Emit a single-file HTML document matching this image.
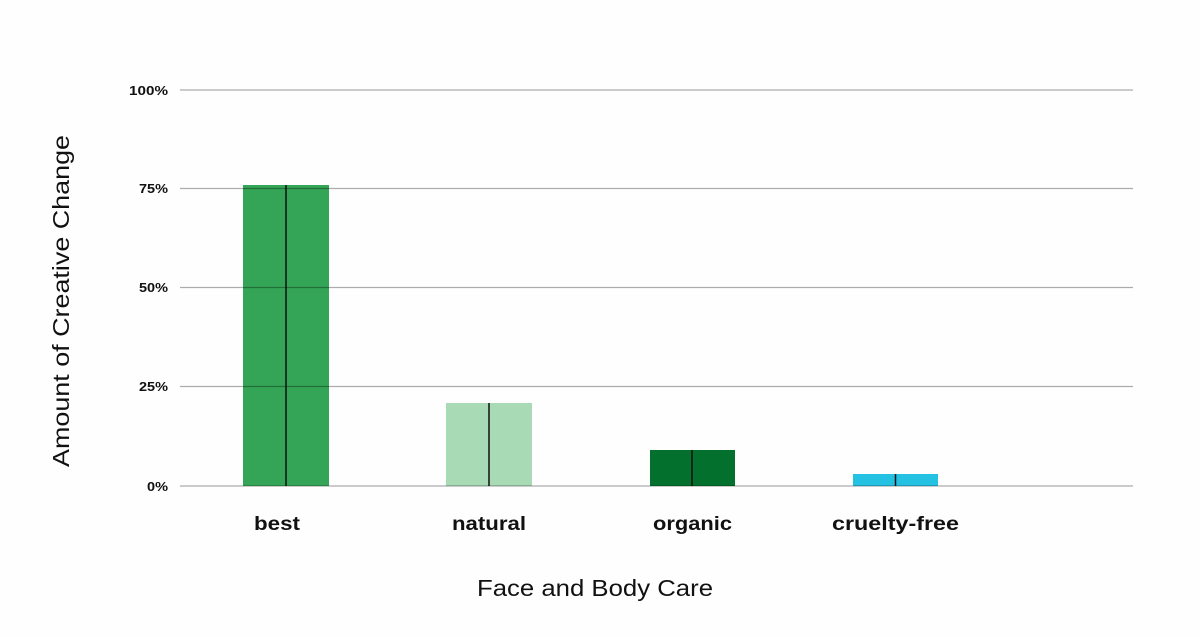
<!DOCTYPE html>
<html><head><style>body{margin:0;background:#fff}</style></head><body>
<svg width="1200" height="638" xmlns="http://www.w3.org/2000/svg" font-family="Liberation Sans, sans-serif">
<rect width="1200" height="638" fill="#fdfefd"/>
<rect x="243" y="185" width="86" height="301" fill="#34a456"/>
<rect x="446" y="403" width="86" height="83" fill="#a8dab5"/>
<rect x="650" y="450" width="85" height="36" fill="#03702e"/>
<rect x="853" y="474" width="85" height="12" fill="#25c1e3"/>
<g stroke="#111" stroke-width="1.5">
<line x1="286" y1="185" x2="286" y2="486"/>
<line x1="489" y1="403" x2="489" y2="486"/>
<line x1="692" y1="450" x2="692" y2="486"/>
<line x1="895.5" y1="474" x2="895.5" y2="486"/>
</g>
<g stroke="#000" stroke-opacity="0.32" stroke-width="1.2">
<line x1="180" y1="90" x2="1133" y2="90"/>
<line x1="180" y1="188.5" x2="1133" y2="188.5"/>
<line x1="180" y1="287.5" x2="1133" y2="287.5"/>
<line x1="180" y1="386.5" x2="1133" y2="386.5"/>
<line x1="180" y1="486" x2="1133" y2="486"/>
</g>
<g font-size="13" font-weight="bold" fill="#111" lengthAdjust="spacingAndGlyphs">
<text x="129" y="95" textLength="39" lengthAdjust="spacingAndGlyphs">100%</text>
<text x="139" y="193" textLength="29" lengthAdjust="spacingAndGlyphs">75%</text>
<text x="139" y="292" textLength="29" lengthAdjust="spacingAndGlyphs">50%</text>
<text x="139" y="391" textLength="29" lengthAdjust="spacingAndGlyphs">25%</text>
<text x="147" y="491" textLength="21" lengthAdjust="spacingAndGlyphs">0%</text>
</g>
<g font-size="19" font-weight="bold" fill="#111">
<text x="254" y="530" textLength="46" lengthAdjust="spacingAndGlyphs">best</text>
<text x="452" y="530" textLength="74" lengthAdjust="spacingAndGlyphs">natural</text>
<text x="653" y="530" textLength="79" lengthAdjust="spacingAndGlyphs">organic</text>
<text x="832" y="530" textLength="127" lengthAdjust="spacingAndGlyphs">cruelty-free</text>
</g>
<text x="477" y="596" font-size="23" fill="#111" textLength="236" lengthAdjust="spacingAndGlyphs">Face and Body Care</text>
<text transform="translate(69,467) rotate(-90)" font-size="23" fill="#111" textLength="332" lengthAdjust="spacingAndGlyphs">Amount of Creative Change</text>
</svg>
</body></html>
